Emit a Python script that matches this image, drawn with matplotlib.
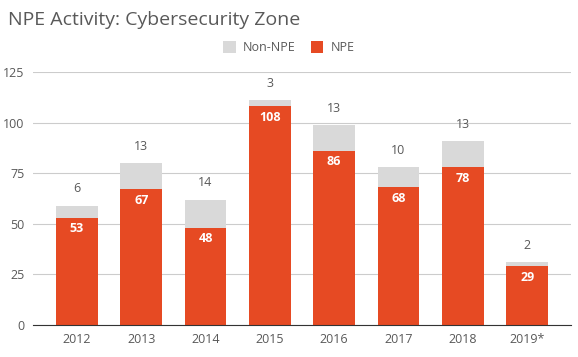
import matplotlib.pyplot as plt
import numpy as np

plt.rcParams['font.family'] = ['Open Sans', 'DejaVu Sans']

years = ['2012', '2013', '2014', '2015', '2016', '2017', '2018', '2019*']
npe = [53, 67, 48, 108, 86, 68, 78, 29]
non_npe = [6, 13, 14, 3, 13, 10, 13, 2]

orange = '#e64a23'
grey = '#d9d9d9'
text_col = '#595959'

fig = plt.figure(figsize=(5.78, 3.57), dpi=100)
ax = fig.add_axes([0.057, 0.09, 0.931, 0.708])

x = np.arange(len(years))
w = 0.65
b1 = ax.bar(x, npe, width=w, color=orange, zorder=2, label='NPE')
b2 = ax.bar(x, non_npe, width=w, bottom=npe, color=grey, zorder=2, label='Non-NPE')

for i in range(len(years)):
    ax.text(x[i], npe[i] - 2.2, str(npe[i]), ha='center', va='top',
            color='white', fontsize=9, fontweight='bold')
    ax.text(x[i], npe[i] + non_npe[i] + 5, str(non_npe[i]), ha='center',
            va='bottom', color=text_col, fontsize=9)

ax.set_xlim(-0.684, 7.684)
ax.set_ylim(0, 125)
ax.set_yticks([0, 25, 50, 75, 100, 125])
ax.set_xticks(x)
ax.set_xticklabels(years)
ax.yaxis.grid(True, color='#cccccc', linewidth=0.8, zorder=0)
ax.tick_params(axis='both', length=0, labelsize=9, colors=text_col, pad=6)
for s in ['top', 'right', 'left']:
    ax.spines[s].set_visible(False)
ax.spines['bottom'].set_color('#333333')
ax.spines['bottom'].set_zorder(3)

handles = [b2, b1]
fig.legend(handles, ['Non-NPE', 'NPE'], loc='center', bbox_to_anchor=(0.5, 0.866),
           ncol=2, frameon=False, fontsize=9, labelcolor=text_col,
           handlelength=1.0, handleheight=1.0, columnspacing=1.2, handletextpad=0.6)

fig.text(0.014, 0.945, 'NPE Activity: Cybersecurity Zone', fontsize=14,
         color=text_col, va='center', ha='left')

fig.savefig('out.png', dpi=100)
